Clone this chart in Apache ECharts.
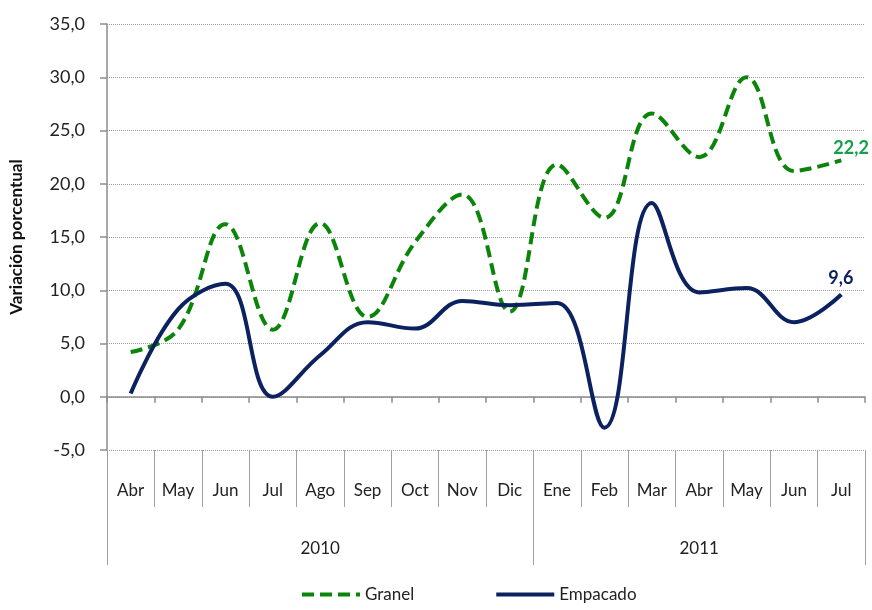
<!DOCTYPE html>
<html>
<head>
<meta charset="utf-8">
<script src="https://cdn.jsdelivr.net/npm/echarts@6/dist/echarts.min.js"></script>
<style>
  html, body { margin: 0; padding: 0; background: #fff; }
  #chart { width: 872px; height: 610px; }
</style>
</head>
<body>
<div id="chart"></div>
<script>
// Data
const months = ['Abr', 'May', 'Jun', 'Jul', 'Ago', 'Sep', 'Oct', 'Nov', 'Dic',
  'Ene', 'Feb', 'Mar', 'Abr', 'May', 'Jun', 'Jul']
const years = ['2010', '2011']
const yearBounds = [0, 9, 16]          // month index where each year starts / ends
const yearCenters = [4.5, 12.5]
const granel = [4.2, 6.3, 16.2, 6.3, 16.3, 7.5, 14.5, 19.0, 8.0, 21.8, 16.8, 26.6, 22.5, 30.0, 21.2, 22.2]
const empacado = [0.3, 8.2, 10.6, 0.0, 3.9, 7.0, 6.4, 9.0, 8.6, 8.8, -2.9, 18.2, 9.8, 10.2, 7.0, 9.6]

const FONT = 'Lato, "Open Sans", sans-serif'
const GREEN = '#0a850a'
const NAVY = '#0c2260'
const AXIS = '#8c8c8c'

const fmt = v => v.toFixed(1).replace('.', ',')

const chart = echarts.init(document.getElementById('chart'), null, { renderer: 'canvas' })

chart.setOption({
  animation: false,
  grid: { left: 105, right: 7, top: 24, bottom: 160 },
  legend: {
    bottom: 2,
    left: 295,
    itemWidth: 58,
    itemHeight: 12,
    itemGap: 80,
    itemStyle: { opacity: 0 },
    lineStyle: { width: 4 },
    textStyle: { fontFamily: FONT, fontSize: 17, color: '#222' },
    data: ['Granel', 'Empacado']
  },
  xAxis: [
    {
      // axis crossing at zero, ticks only
      type: 'category',
      data: months,
      position: 'bottom',
      axisLine: { onZero: true, lineStyle: { color: AXIS, width: 1.5 } },
      axisTick: { show: true, length: 6, lineStyle: { color: AXIS, width: 1.5 } },
      axisLabel: { show: false }
    },
    {
      // month labels with separators
      type: 'category',
      data: months,
      position: 'bottom',
      axisLine: { show: false, onZero: false },
      axisTick: { show: true, length: 57, lineStyle: { color: '#a0a0a0', width: 1 } },
      axisLabel: { margin: 32, fontFamily: FONT, fontSize: 17, color: '#222', interval: 0 }
    },
    {
      // year labels
      type: 'value',
      min: 0,
      max: months.length,
      position: 'bottom',
      splitLine: { show: false },
      axisLine: { show: false, onZero: false },
      axisTick: { show: true, length: 115, customValues: yearBounds, lineStyle: { color: '#a0a0a0', width: 1 } },
      axisLabel: {
        margin: 90,
        customValues: yearCenters,
        formatter: v => years[yearCenters.indexOf(v)] || '',
        fontFamily: FONT, fontSize: 17, color: '#222'
      }
    }
  ],
  yAxis: {
    type: 'value',
    min: -5,
    max: 35,
    interval: 5,
    name: 'Variación porcentual',
    nameLocation: 'middle',
    nameGap: 82,
    nameTextStyle: { fontFamily: FONT, fontSize: 17, fontWeight: 'bold', color: '#111' },
    axisLine: { show: true, lineStyle: { color: AXIS, width: 1.5 } },
    axisTick: { show: true, length: 7, lineStyle: { color: AXIS, width: 1.5 } },
    axisLabel: { formatter: fmt, margin: 22, fontFamily: FONT, fontSize: 18, color: '#222' },
    splitLine: { show: true, lineStyle: { type: 'dotted', color: '#9a9a9a', width: 1 } }
  },
  series: [
    {
      name: 'Granel',
      type: 'line',
      data: granel,
      smooth: 0.4,
      symbol: 'none',
      lineStyle: { color: GREEN, width: 4, type: [12, 6] },
      itemStyle: { color: GREEN },
      emphasis: { disabled: true },
      endLabel: {
        show: true,
        formatter: p => fmt(p.value),
        offset: [-16, -12],
        fontFamily: FONT, fontSize: 18, fontWeight: 'bold', color: '#14a04a'
      }
    },
    {
      name: 'Empacado',
      type: 'line',
      data: empacado,
      smooth: 0.4,
      symbol: 'none',
      lineStyle: { color: NAVY, width: 4 },
      itemStyle: { color: NAVY },
      emphasis: { disabled: true },
      endLabel: {
        show: true,
        formatter: p => fmt(p.value),
        offset: [-21, -16],
        fontFamily: FONT, fontSize: 18, fontWeight: 'bold', color: NAVY
      }
    }
  ]
})
</script>
</body>
</html>
